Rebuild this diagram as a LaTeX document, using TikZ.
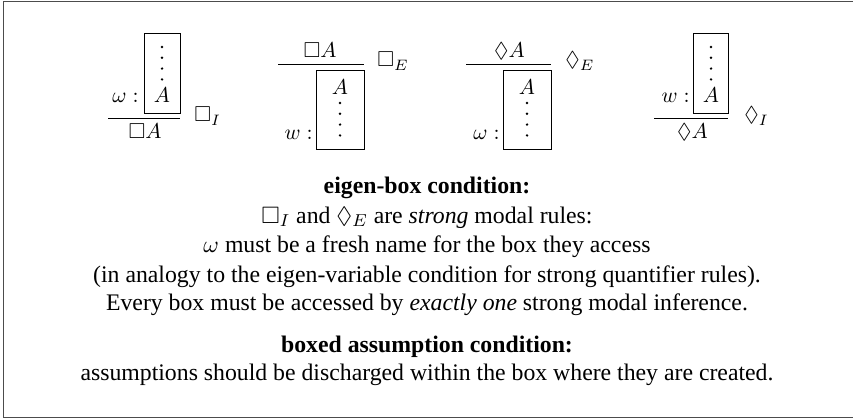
\documentclass[tikz,border=0pt]{standalone}
\usepackage{amssymb}
\usepackage[no-math]{fontspec}
\setmainfont{Liberation Serif}
\def\px{0.463pt}
\tikzset{
  x=0.463pt, y=-0.463pt,
  txt/.style={inner sep=0pt, anchor=base, font=\fontsize{11pt}{13pt}\selectfont},
  mth/.style={inner sep=0pt, font=\fontsize{10pt}{12pt}\selectfont},
  rulel/.style={line width=0.45pt},
  ebox/.style={line width=0.45pt},
  frame/.style={line width=0.55pt, black!70},
  vdot/.style={fill=black},
}
\newcommand{\dotcol}[2]{% x, first y
  \foreach \k in {0,1,2,3} {\fill[vdot] (#1,#2+\k*10.8) circle (1.35);}
}
\begin{document}
\begin{tikzpicture}
\useasboundingbox (0,0) rectangle (853,419);
\fill[white] (0,0) rectangle (853,419);
% frame
\draw[frame] (870,1.2) -- (3.6,1.2) -- (3.6,417.8) -- (870,417.8);

% ---- Box introduction
\draw[ebox] (144,33) rectangle (180,113);
\dotcol{162}{47}
\node[mth, anchor=base] (biA) at (162,103) {$A$};
\node[mth, anchor=base east] (biw) at (139,103) {$\omega :$};
\draw[rulel] (108,118) -- (180,118);
\node[mth, anchor=base] (biC) at (145,138) {$\Box A$};
\node[mth, anchor=base west] (biL) at (194,122) {$\Box_I$};

% ---- Box elimination
\node[mth, anchor=base] (beP) at (320,58) {$\Box A$};
\draw[rulel] (278,64) -- (364,64);
\node[mth, anchor=base west] (beL) at (377,67) {$\Box_E$};
\draw[ebox] (316,70) rectangle (364,149);
\node[mth, anchor=base] (beA) at (340,95) {$A$};
\dotcol{340}{103}
\node[mth, anchor=base east] (bew) at (313,140) {$w :$};

% ---- Diamond elimination
\node[mth, anchor=base] (deP) at (509.5,58) {$\Diamond A$};
\draw[rulel] (466,64) -- (551,64);
\node[mth, anchor=base west] (deL) at (565,67) {$\Diamond_E$};
\draw[ebox] (503,70) rectangle (551,149);
\node[mth, anchor=base] (deA) at (527,95) {$A$};
\dotcol{527}{103}
\node[mth, anchor=base east] (dew) at (500,140) {$\omega :$};

% ---- Diamond introduction
\draw[ebox] (693,33) rectangle (728,113);
\dotcol{711}{47}
\node[mth, anchor=base] (diA) at (711,103) {$A$};
\node[mth, anchor=base east] (diw) at (690,103) {$w :$};
\draw[rulel] (654,118) -- (728,118);
\node[mth, anchor=base] (diC) at (692.5,138) {$\Diamond A$};
\node[mth, anchor=base west] (diL) at (744,122) {$\Diamond_I$};

% ---- text
\node[txt] (t1) at (427,193) {\textbf{eigen-box condition:}};
\node[txt] (t2) at (427,223) {$\Box_I$ and $\Diamond_E$ are \emph{strong} modal rules:};
\node[txt] (t3) at (427,252) {$\omega$ must be a fresh name for the box they access};
\node[txt] (t4) at (427,282) {(in analogy to the eigen-variable condition for strong quantifier rules).};
\node[txt] (t5) at (427,310) {Every box must be accessed by \emph{exactly one} strong modal inference.};
\node[txt] (t6) at (427,352) {\textbf{boxed assumption condition:}};
\node[txt] (t7) at (427,380) {assumptions should be discharged within the box where they are created.};
\end{tikzpicture}
\end{document}
